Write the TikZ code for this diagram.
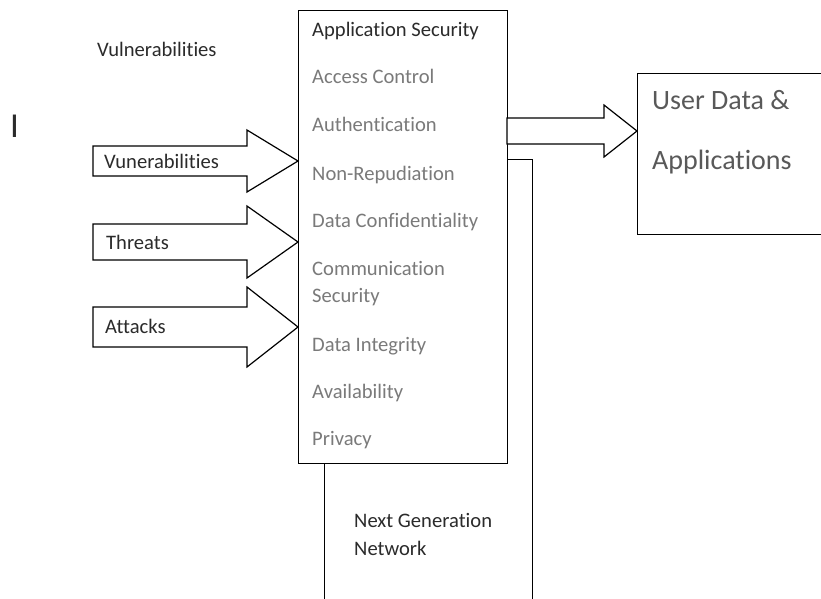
\documentclass[tikz,border=0pt]{standalone}
\usepackage{fontspec}
\setmainfont{Carlito}[Ligatures={NoCommon}]
\usetikzlibrary{calc}

\definecolor{darktext}{HTML}{2B2B2B}
\definecolor{graytext}{HTML}{7A7A7A}
\definecolor{midtext}{HTML}{595959}

% block arrow: tip, total length, head length, shaft half-height, head half-height
\newcommand{\blockarrow}[5]{%
  \draw[outline] (#1) -- ++(-#3,-#5) -- ++(0,{#5-#4}) -- ++({-(#2-#3)},0)
    -- ++(0,{2*#4}) -- ++({#2-#3},0) -- ++(0,{#5-#4}) -- cycle;}

\begin{document}
\begin{tikzpicture}[x=1pt,y=-1pt,
  outline/.style={draw=black,line width=1.2pt,line join=miter,fill=white},
  panel/.style={outline,inner sep=0pt,anchor=north west},
  label/.style={anchor=base west,inner sep=0pt,font=\fontsize{20.6}{24}\selectfont},
  item/.style={label,text=graytext},
  heading/.style={label,text=darktext},
  bigtext/.style={anchor=base west,inner sep=0pt,text=midtext,font=\fontsize{28}{32}\selectfont}]
\useasboundingbox (0,0) rectangle (821,598);

% next generation network block, partly behind the security panel
\node[panel,minimum width=208pt,minimum height=470pt] (ngn) at (324,159) {};
% application security panel
\node[panel,minimum width=209pt,minimum height=453pt] (sec) at (298,10) {};
% user data block, running off the right edge
\node[panel,minimum width=220pt,minimum height=161pt] (user) at (637,73) {};

% incoming block arrows
\blockarrow{$(sec.north west)+(0,151)$}{205}{51}{15}{31}
\blockarrow{$(sec.north west)+(0,232)$}{205}{51}{18}{36}
\blockarrow{$(sec.north west)+(0,317)$}{205}{51}{20}{40}
% outgoing block arrow to user data
\blockarrow{$(user.north west)+(0,58)$}{130}{33}{13}{26}

% free labels
\node[anchor=base west,inner sep=0pt,text=darktext,font=\fontsize{35}{40}\selectfont] (cursor) at (10,137) {I};
\node[heading] (vul) at (97,56) {Vulnerabilities};

% arrow labels
\node[heading] (a1) at (104,168) {Vunerabilities};
\node[heading] (a2) at (106,249) {Threats};
\node[heading] (a3) at (105,333) {Attacks};

% security panel contents
\node[heading] (t0) at (312,36) {Application Security};
\node[item] (t1) at (312,83) {Access Control};
\node[item] (t2) at (312,131.5) {Authentication};
\node[item] (t3) at (312,180) {Non-Repudiation};
\node[item] (t4) at (312,227) {Data Confidentiality};
\node[item] (t5) at (312,275) {Communication};
\node[item] (t6) at (312,302.5) {Security};
\node[item] (t7) at (312,351) {Data Integrity};
\node[item] (t8) at (312,398.5) {Availability};
\node[item] (t9) at (312,445) {Privacy};

% network label
\node[heading] (n1) at (354,527) {Next Generation};
\node[heading] (n2) at (354,555) {Network};

% user data label
\node[bigtext] (u1) at (652,109) {User Data \&};
\node[bigtext] (u2) at (652,169) {Applications};
\end{tikzpicture}
\end{document}
